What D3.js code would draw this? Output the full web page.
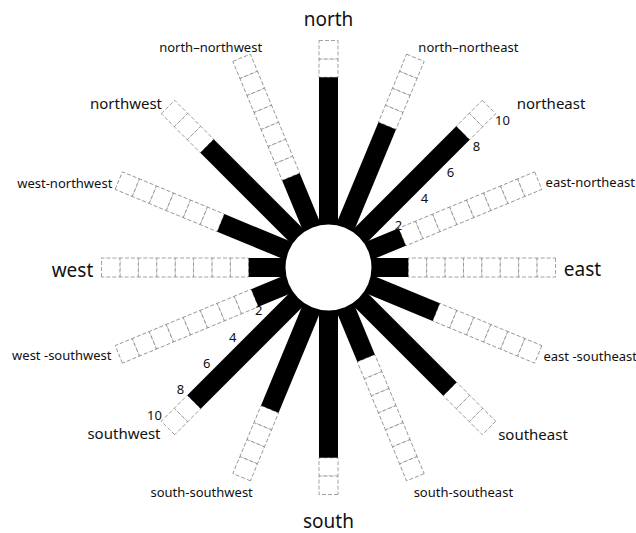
<!DOCTYPE html>
<html>
<head>
<meta charset="utf-8">
<script src="https://cdn.jsdelivr.net/npm/d3@7"></script>
<style>
  html, body { margin: 0; padding: 0; background: #fff; }
  svg { display: block; font-family: "Noto Sans", "Open Sans", sans-serif; }
</style>
</head>
<body>
<div id="chart"></div>
<script>
// 16 compass directions, clockwise from north
var directions = ['north', 'north\u2013northeast', 'northeast', 'east-northeast',
    'east', 'east -southeast', 'southeast', 'south-southeast',
    'south', 'south-southwest', 'southwest', 'west -southwest',
    'west', 'west-northwest', 'northwest', 'north\u2013northwest'];
var values = [8, 6, 8, 2, 2, 4, 7, 3, 8, 6, 8, 2, 2, 4, 7, 3];
var maxValue = 10;
var tickValues = [2, 4, 6, 8, 10];
var tickedDirections = ['northeast', 'southwest'];
var cardinals = ['north', 'east', 'south', 'west'];
var intercardinals = ['northeast', 'southeast', 'southwest', 'northwest'];

// layout only: label nudge from the bar end (x, y)
var labelNudge = {
    'north': [0, -22], 'north\u2013northeast': [53, -11], 'northeast': [62, -4],
    'east-northeast': [52, 1], 'east': [27, 1], 'east -southeast': [52, 2],
    'southeast': [44, 6], 'south-southeast': [48, 15], 'south': [0, 26],
    'south-southwest': [-40, 15], 'southwest': [-44, 5], 'west -southwest': [-57, 1],
    'west': [-29, 2], 'west-northwest': [-54, 2], 'northwest': [-42, -4],
    'north\u2013northwest': [-31, -11]
};

var width = 636, height = 533;
var cx = 328.5, cy = 267.5;
var innerR = 43, outerR = 227, barW = 19;

var svg = d3.select('#chart').append('svg')
    .attr('width', width)
    .attr('height', height);

var angle = d3.scaleBand().domain(directions).range([0, 360]);
var r = d3.scaleLinear().domain([0, maxValue]).range([innerR, outerR]);

var data = directions.map((d, i) => ({ name: d, value: values[i] }));

var bars = svg.append('g').selectAll('g')
    .data(data)
    .join('g')
    .attr('transform', d => `translate(${cx},${cy}) rotate(${angle(d.name)})`);

// empty cells (dashed)
bars.each(function(d) {
    var cells = d3.range(d.value, maxValue);
    d3.select(this).selectAll('rect.cell')
        .data(cells)
        .join('rect')
        .attr('class', 'cell')
        .attr('x', -barW / 2)
        .attr('y', k => -r(k + 1))
        .attr('width', barW)
        .attr('height', k => r(k + 1) - r(k))
        .attr('fill', '#fff')
        .attr('stroke', '#8a8a8a')
        .attr('stroke-width', 0.8)
        .attr('stroke-dasharray', '4,2');
});

// filled part
bars.append('rect')
    .attr('x', -barW / 2)
    .attr('y', d => -r(d.value))
    .attr('width', barW)
    .attr('height', d => r(d.value))
    .attr('fill', '#000');

svg.append('circle')
    .attr('cx', cx).attr('cy', cy)
    .attr('r', innerR)
    .attr('fill', '#fff');

function polar(rad, deg) {
    var a = deg * Math.PI / 180;
    return [cx + rad * Math.sin(a), cy - rad * Math.cos(a)];
}

// tick numbers beside the NE and SW bars
tickedDirections.forEach(name => {
    var a = angle(name);
    svg.append('g').selectAll('text')
        .data(tickValues)
        .join('text')
        .attr('x', v => polar(r(v), a)[0] + 19 * Math.sin((a + 90) * Math.PI / 180))
        .attr('y', v => polar(r(v), a)[1] - 19 * Math.cos((a + 90) * Math.PI / 180))
        .attr('text-anchor', 'middle')
        .attr('dominant-baseline', 'central')
        .style('font-size', '13px')
        .style('fill', '#111')
        .text(v => v);
});

// direction labels
svg.append('g').selectAll('text')
    .data(data)
    .join('text')
    .attr('x', d => polar(outerR, angle(d.name))[0] + labelNudge[d.name][0])
    .attr('y', d => polar(outerR, angle(d.name))[1] + labelNudge[d.name][1])
    .attr('text-anchor', 'middle')
    .attr('dominant-baseline', 'central')
    .style('font-size', d => cardinals.includes(d.name) ? '19px'
        : intercardinals.includes(d.name) ? '15px' : '13px')
    .style('fill', '#111')
    .text(d => d.name);
</script>
</body>
</html>
